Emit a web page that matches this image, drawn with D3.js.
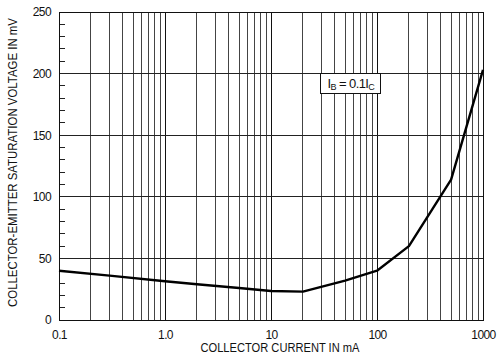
<!DOCTYPE html>
<html>
<head>
<meta charset="utf-8">
<script src="https://cdn.jsdelivr.net/npm/d3@7"></script>
<style>
  html, body { margin: 0; padding: 0; background: #fff; }
  svg text { font-family: "Liberation Sans Narrow", "Arial Narrow", "Liberation Sans", Arial, sans-serif; fill: #111; }
</style>
</head>
<body>
<svg id="chart" width="498" height="357"></svg>
<script>
// Collector current (mA) and saturation voltage (mV), IB = 0.1 IC
const currentMA = [0.1, 0.3, 1, 2, 5, 10, 20, 50, 100, 200, 500, 1000];
const vceSatMV  = [40, 36, 31.5, 29, 26, 23.5, 23, 32, 40, 60, 114, 203];

const xTickValues = [0.1, 1, 10, 100, 1000];
const xTickLabels = ["0.1", "1.0", "10", "100", "1000"];
const yTickValues = [0, 50, 100, 150, 200, 250];
const yMinorTicks = [10, 20, 30, 40, 60, 70, 80, 90, 110, 120, 130, 140, 160, 170, 180, 190, 210, 220, 230, 240];

const margin = { left: 59, top: 12, right: 15, bottom: 37 };
const W = 498, H = 357;
const iw = W - margin.left - margin.right;
const ih = H - margin.top - margin.bottom;

const svg = d3.select("#chart");
const g = svg.append("g").attr("transform", `translate(${margin.left},${margin.top})`);

const x = d3.scaleLog().domain([0.1, 1000]).range([0, iw]);
const y = d3.scaleLinear().domain([0, 250]).range([ih, 0]);

// vertical log grid: 2..9 within each decade
const minorX = [];
for (let e = -1; e < 3; e++) {
  for (let m = 2; m <= 9; m++) minorX.push(m * Math.pow(10, e));
}
g.append("g").selectAll("line").data(minorX).join("line")
  .attr("x1", d => x(d)).attr("x2", d => x(d))
  .attr("y1", 0).attr("y2", ih)
  .attr("stroke", "#444").attr("stroke-width", 1).attr("shape-rendering", "crispEdges");

g.append("g").selectAll("line").data(xTickValues).join("line")
  .attr("x1", d => x(d)).attr("x2", d => x(d))
  .attr("y1", 0).attr("y2", ih)
  .attr("stroke", "#111").attr("stroke-width", 1).attr("shape-rendering", "crispEdges");

// horizontal grid
g.append("g").selectAll("line").data(yTickValues).join("line")
  .attr("x1", 0).attr("x2", iw)
  .attr("y1", d => y(d)).attr("y2", d => y(d))
  .attr("stroke", "#222").attr("stroke-width", 1).attr("shape-rendering", "crispEdges");

// minor y ticks on the left edge
g.append("g").selectAll("line").data(yMinorTicks).join("line")
  .attr("x1", 0).attr("x2", 6)
  .attr("y1", d => y(d)).attr("y2", d => y(d))
  .attr("stroke", "#222").attr("stroke-width", 1).attr("shape-rendering", "crispEdges");

// frame
g.append("rect").attr("x", 0).attr("y", 0).attr("width", iw).attr("height", ih)
  .attr("fill", "none").attr("stroke", "#111").attr("stroke-width", 1).attr("shape-rendering", "crispEdges");

// tick labels via d3 axes (domain and tick marks hidden)
const xAxis = d3.axisBottom(x).tickValues(xTickValues)
  .tickFormat((d, i) => xTickLabels[i]).tickSize(0).tickPadding(10);
const xa = g.append("g").attr("transform", `translate(0,${ih})`).call(xAxis);
xa.select(".domain").remove();
xa.selectAll("text").attr("font-size", 12).style("font-family", null)
  .style("letter-spacing", "-0.6px");

const yAxis = d3.axisLeft(y).tickValues(yTickValues).tickSize(0).tickPadding(8);
const ya = g.append("g").call(yAxis);
ya.select(".domain").remove();
ya.selectAll("text").attr("font-size", 12).style("font-family", null)
  .style("letter-spacing", "-0.6px");

// curve
const line = d3.line().x((d, i) => x(currentMA[i])).y(d => y(d));
g.append("path").datum(vceSatMV)
  .attr("d", line).attr("fill", "none")
  .attr("stroke", "#000").attr("stroke-width", 2.4).attr("stroke-linejoin", "round");

// condition label
const lbl = g.append("g").attr("transform", `translate(${x(30) - 1},${y(200)})`);
lbl.append("rect").attr("x", 0).attr("y", 0).attr("width", 60).attr("height", 20)
  .attr("fill", "#fff").attr("stroke", "#111").attr("stroke-width", 1).attr("shape-rendering", "crispEdges");
const t = lbl.append("text").attr("x", 7).attr("y", 14.5).attr("font-size", 13)
  .style("letter-spacing", "-0.6px");
t.append("tspan").text("I");
t.append("tspan").attr("font-size", 9).attr("dy", 2).text("B");
t.append("tspan").attr("dy", -2).text(" = 0.1I");
t.append("tspan").attr("font-size", 9).attr("dy", 2).text("C");

// axis titles, condensed to the narrow typeface width
svg.append("text").attr("x", 280).attr("y", 352)
  .attr("text-anchor", "middle").attr("font-size", 12.5)
  .attr("textLength", 159).attr("lengthAdjust", "spacingAndGlyphs")
  .text("COLLECTOR CURRENT IN mA");

svg.append("text").attr("transform", "translate(17,162.5) rotate(-90)")
  .attr("text-anchor", "middle").attr("font-size", 12)
  .attr("textLength", 289).attr("lengthAdjust", "spacingAndGlyphs")
  .text("COLLECTOR-EMITTER SATURATION VOLTAGE IN mV");
</script>
</body>
</html>
